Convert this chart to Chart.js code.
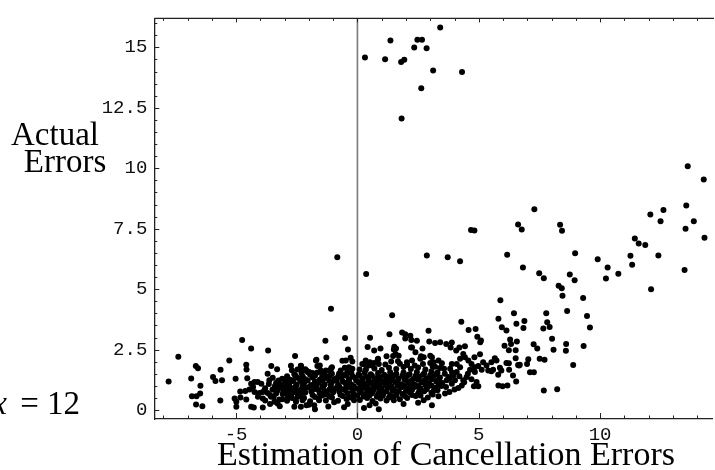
<!DOCTYPE html>
<html><head><meta charset="utf-8">
<script src="https://cdn.jsdelivr.net/npm/chart.js@4"></script>
<style>html,body{margin:0;padding:0;background:#fff;overflow:hidden}canvas{display:block}</style>
</head><body>
<canvas id="c" width="715" height="470"></canvas>
<script>
// ---- tick labels / tick marks ----
const xTicks = [-5, 0, 5, 10];
const yTicks = [0, 2.5, 5, 7.5, 10, 12.5, 15];
const xMinorTicks = [-8,-7,-6,-5,-4,-3,-2,-1,0,1,2,3,4,5,6,7,8,9,10,11,12,13,14];
const yMinorTicks = [0,0.5,1,1.5,2,2.5,3,3.5,4,4.5,5,5.5,6,6.5,7,7.5,8,8.5,9,9.5,10,10.5,11,11.5,12,12.5,13,13.5,14,14.5,15,15.5,16];
const xTitle = "Estimation of Cancellation Errors";
const yTitleLines = ["Actual", "Errors"];
const sideNote = "= 12";

// ---- data ----
const highPts = [[0.31,14.58],[1.14,14.51],[1.36,15.29],[1.80,14.40],[1.93,14.49],[1.82,12.06],[2.34,15.0],[2.47,15.32],[2.66,15.32],[2.63,13.31],[2.85,14.97],[3.12,14.04],[3.41,15.82],[4.31,13.98]];

const rightPts = [[13.61,10.08],[14.27,9.54],[13.55,8.46],[12.61,8.28],[12.07,8.09],[12.49,7.81],[13.86,7.81],[13.52,7.5],[14.30,7.13],[11.43,7.10],[11.59,6.89],[11.86,6.83],[11.25,6.38],[12.40,6.39],[11.32,6.01],[9.90,6.24],[10.31,5.9],[10.24,5.44],[10.75,5.64],[13.48,5.79],[12.10,5.0],
[7.29,8.31],[6.62,7.68],[6.77,7.47],[8.35,7.66],[8.43,7.42],[4.68,7.45],[4.82,7.43],
[3.72,6.32],[4.23,6.16],[6.17,6.42],[8.97,6.49],
[6.82,5.9],[7.49,5.66],[7.68,5.45],[8.75,5.61],[8.95,5.37],
[8.29,5.14],[8.42,5.04],[8.45,4.73],[9.30,4.63],[5.89,4.54],[6.45,4.0],[7.78,4.0],[8.64,4.10],[9.46,3.89],[9.58,3.41],
[4.28,3.65],[5.81,3.78],[5.95,3.43],[6.14,3.29],[6.55,3.57],[6.88,3.68],[6.84,3.39],[7.66,3.37],[7.82,3.63],[7.92,3.44],[4.58,3.31],[4.87,3.35],[4.94,3.03],[5.09,2.88],[5.06,2.80],[8.02,2.95],[8.60,2.73],[8.59,2.45],[9.32,2.65],[8.08,2.49],[7.26,2.72],[7.41,2.55],[6.29,2.92],[6.57,2.84],[6.33,2.73],[6.52,2.47],[6.24,2.47],[6.06,2.66],
[7.51,2.12],[7.71,2.08],[8.89,1.86],[7.04,2.10],[6.99,1.91],[7.11,1.56],[7.27,1.56],[6.41,1.43],[6.54,1.18],[5.81,1.02],[5.98,0.98],[6.18,1.02],[7.68,0.81],[8.23,0.86],[6.24,1.94],[6.62,1.86],[6.69,1.87]];

const midPts = [[3.84,2.59],[3.89,2.79],[4.07,2.46],[4.20,2.59],[4.43,2.64],[4.36,2.32],[4.43,2.18],[4.23,2.12],[4.57,2.05],[4.82,2.18],[5.05,2.31],[4.70,1.91],[4.84,1.77],[4.98,1.82],[5.18,1.98],[5.32,1.84],[5.52,1.98],[5.66,2.14],[5.73,2.05],[5.39,1.64],[5.52,1.60],[5.59,1.67],[5.87,1.75],[5.93,1.64],[5.80,1.46],[6.14,1.95],[6.25,1.67],[6.52,2.14],[6.66,1.84],[5.12,1.67],[4.84,1.57],[4.64,1.67],[4.50,1.37],[4.70,1.27],[4.91,1.16],[4.80,0.98],[4.98,0.98],[4.23,1.77],[4.09,1.57],[3.95,1.43],[3.82,1.71],[3.68,1.23],[3.89,1.09],[4.16,0.91],[3.61,0.68],[3.79,0.75],[3.75,1.37],[4.02,1.23],[4.30,1.02],[4.36,1.23],[4.09,1.91],[3.89,1.91]];

const scatterPts = [[-0.83,6.32],[0.36,5.63],[-1.09,4.19],[1.43,3.92],[2.86,6.39],
[-7.38,2.20],[-7.78,1.18],[-4.75,2.90],[-4.38,2.55],[-3.68,2.46],[-5.28,2.05],[-6.66,1.82],[-6.57,1.73],[-6.85,1.31],[-5.64,1.67],[-5.95,1.37],[-5.85,1.20],[-5.58,1.23],[-6.47,1.01],[-6.82,0.57],[-6.63,0.57],[-6.48,0.68],[-6.65,0.23],[-6.39,0.16],[-5.65,0.40],[-5.02,1.30],[-4.54,1.32],[-4.58,1.87],[-4.57,1.68],[-3.31,1.69],[-3.55,1.82],[-2.57,2.24],[-1.32,2.87],[-0.51,2.98],[-0.39,2.5],[-1.28,2.17],[-1.69,2.08],[-1.09,1.72],[-1.05,1.77],[-1.11,1.61],[-0.62,2.04],[-0.48,2.05],[-0.28,2.16],[-0.21,2.01],[-1.55,1.84],[-2.74,1.83],[-2.70,1.65],[-2.47,1.68],[-2.33,1.82],[-2.15,1.69],[-2.04,1.56],
[0.42,2.61],[0.52,2.99],[0.69,2.46],[0.95,2.55],[0.2,1.91],[0.34,2.05],[0.47,1.84],[0.85,2.12],[0.88,1.91],[1.20,2.23],[1.32,3.14],[1.50,2.5],[1.59,2.55],[1.70,2.25],[1.84,3.21],[1.97,3.14],[2.18,3.07],[2.22,2.90],[2.45,2.87],[2.25,2.59],[2.39,2.39],[2.59,2.12],[2.93,3.28],[2.96,2.84],[3.20,2.77],[3.41,2.80],[3.66,2.73],[3.07,2.18],[3.07,0.20],
[1.97,2.96],[1.52,2.62],[1.57,2.32],[1.47,2.24],[2.21,2.59],[2.68,2.55],[2.62,2.23],[2.73,2.18],[3.0,2.25],[3.14,1.98],[3.34,2.05],[3.20,1.79],[3.57,1.71],[3.48,1.94],[2.04,1.98],[2.25,2.05],[2.36,1.84],[1.67,2.02],[1.39,2.01],[0.84,2.09],[0.68,1.95],[0.51,1.98],[0.27,1.89],[0.09,1.68],[0.61,1.84],
[-0.69,1.64],[-0.52,1.75],[-0.35,1.77],[-0.21,1.71],[-0.76,1.50],[-0.42,1.56],[-1.51,1.64],[-1.65,1.82],[-1.71,2.05],[-1.85,1.53],[-2.10,1.64],[-2.29,1.64],[-2.33,1.83],[-1.99,1.57],[-1.30,1.64],[-1.44,1.50]];

const lowPts = [[-5.06,0.48],[-4.99,0.34],[-4.82,0.52],[-4.83,0.77],[-4.99,0.14],[-4.58,0.44],[-4.62,0.79],[-4.38,0.14],[-4.27,0.11],[-3.90,0.11],[-4.38,1.09],[-4.24,1.16],[-4.45,0.85],[-4.24,0.75],[-4.04,0.71],[-3.90,0.48],[-3.83,0.82],[-3.70,0.71],[-3.63,1.23],[-3.49,1.34],[-3.29,1.16],[-3.15,1.07],[-3.35,0.89],[-3.56,0.55],[-3.42,0.34],[-3.29,0.27],[-3.22,0.44],[-3.08,0.66],[-2.94,0.71],[-2.88,0.52],[-2.74,0.61],[-2.60,0.75],[-2.53,0.34],[-2.47,0.55],[-2.33,0.71],[-2.26,0.95],[-2.81,1.02],[-2.67,1.23],[-2.94,1.30],[-3.08,0.89],[-3.96,1.09],[-4.11,1.16],[-2.60,0.14],[-2.33,0.14],[-2.26,0.48],[-3.90,0.75],[-3.70,1.50],
[-2.10,0.20],[-1.78,0.20],[-1.75,0.03],[-0.96,0.32],[-0.55,0.12],[-0.14,0.41],[0.27,0.09],[0.75,0.27],[0.88,0.03],[1.50,0.41],[2.73,0.41],[3.34,0.57],[-2.26,0.41],[-1.58,0.41],
[-3.2,0.16],[-2.0,0.22],[-1.2,0.15],[0.5,0.2],[1.9,0.25],[-0.4,0.25],[2.5,0.3],[-3.8,0.4],[-3.6,0.25],[-4.1,0.55],[-4.3,0.95],
[3.65,0.95],[3.8,1.3],[4.0,0.85],[4.2,1.4],[4.4,1.15],[3.9,1.55],[3.6,1.5],[4.55,1.5]];

const corePts = [
[-3.1,0.45],[-2.9,0.38],[-2.55,0.42],[-2.2,0.5],[-1.95,0.36],[-1.6,0.47],[-1.3,0.4],[-1.05,0.52],[-0.8,0.38],[-0.45,0.46],[-0.2,0.55],[0.1,0.42],[0.4,0.5],[0.62,0.37],[0.95,0.48],[1.2,0.4],[1.45,0.55],[1.75,0.45],[2.05,0.5],[2.4,0.58],[2.9,0.52],
[-3.6,0.62],[-3.35,0.68],[-3.0,0.72],[-2.75,0.6],[-2.45,0.66],[-2.15,0.73],[-1.85,0.62],[-1.55,0.7],[-1.25,0.64],[-1.0,0.74],[-0.7,0.63],[-0.4,0.7],[-0.15,0.66],[0.15,0.74],[0.35,0.63],[0.6,0.7],[0.85,0.66],[1.1,0.74],[1.35,0.62],[1.6,0.7],[1.85,0.66],[2.15,0.74],[2.5,0.68],[2.75,0.78],[3.05,0.72],[3.3,0.82],
[-3.8,0.9],[-3.5,0.85],[-3.2,0.94],[-2.95,0.86],[-2.65,0.9],[-2.35,0.84],[-2.05,0.93],[-1.75,0.87],[-1.45,0.95],[-1.15,0.85],[-0.9,0.9],[-0.6,0.86],[-0.3,0.94],[0.0,0.88],[0.25,0.92],[0.5,0.85],[0.75,0.95],[1.0,0.88],[1.25,0.93],[1.5,0.86],[1.8,0.94],[2.05,0.89],[2.35,0.95],[2.6,0.9],[2.9,0.96],[3.2,0.92],[3.45,1.0],
[-3.65,1.08],[-3.35,1.12],[-3.05,1.05],[-2.8,1.14],[-2.5,1.06],[-2.2,1.12],[-1.9,1.04],[-1.6,1.13],[-1.35,1.07],[-1.05,1.15],[-0.8,1.05],[-0.5,1.12],[-0.25,1.06],[0.05,1.15],[0.3,1.08],[0.55,1.13],[0.8,1.05],[1.05,1.14],[1.3,1.08],[1.55,1.16],[1.8,1.07],[2.1,1.13],[2.35,1.06],[2.65,1.15],[2.95,1.1],[3.25,1.18],[3.5,1.12],
[-3.1,1.3],[-2.8,1.26],[-2.45,1.33],[-2.15,1.27],[-1.85,1.35],[-1.55,1.25],[-1.25,1.32],[-0.95,1.28],[-0.65,1.36],[-0.35,1.26],[-0.1,1.33],[0.2,1.28],[0.45,1.35],[0.7,1.27],[0.95,1.34],[1.2,1.29],[1.45,1.37],[1.7,1.3],[2.0,1.35],[2.3,1.28],[2.55,1.38],[2.85,1.32],[3.15,1.4],[3.4,1.35],
[-2.6,1.48],[-2.3,1.52],[-1.95,1.46],[-1.65,1.55],[-1.35,1.47],[-1.05,1.5],[-0.55,1.45],[-0.25,1.53],[0.05,1.47],[0.3,1.55],[0.55,1.48],[0.85,1.53],[1.1,1.46],[1.35,1.56],[1.6,1.5],[1.9,1.55],[2.15,1.48],[2.45,1.57],[2.75,1.52],[3.05,1.6],[3.3,1.55],
[0.35,1.68],[0.7,1.72],[1.0,1.66],[1.3,1.75],[1.6,1.7],[1.9,1.78],[2.2,1.7],[2.5,1.76],[2.8,1.68],[3.1,1.8],[3.4,1.74],
[1.15,1.88],[1.75,1.92],[2.05,1.86],[2.7,1.9],[3.0,1.95]];

const coreFillPts = [
[-3.45,0.55],[-2.7,0.5],[-2.35,0.58],[-1.75,0.54],[-1.45,0.6],[-1.15,0.56],[-0.6,0.58],[-0.3,0.52],[0.0,0.6],[0.25,0.56],[0.5,0.6],[0.8,0.55],[1.05,0.6],[1.3,0.52],[1.6,0.6],[1.95,0.58],[2.25,0.62],[2.6,0.6],[3.1,0.64],
[-3.3,0.8],[-3.05,0.78],[-2.8,0.82],[-2.5,0.78],[-2.2,0.8],[-1.9,0.77],[-1.6,0.82],[-1.35,0.79],[-1.05,0.8],[-0.75,0.77],[-0.5,0.82],[-0.2,0.79],[0.1,0.81],[0.4,0.77],[0.65,0.82],[0.9,0.8],[1.2,0.78],[1.45,0.82],[1.7,0.79],[2.0,0.8],[2.25,0.84],[2.55,0.8],[2.85,0.86],[3.15,0.82],
[-3.4,1.0],[-3.1,0.98],[-2.85,1.0],[-2.55,0.97],[-2.25,1.01],[-1.95,0.98],[-1.7,1.0],[-1.4,0.98],[-1.1,1.02],[-0.75,0.97],[-0.45,1.0],[-0.15,0.98],[0.15,1.02],[0.4,0.98],[0.65,1.02],[0.9,0.99],[1.15,1.03],[1.4,0.98],[1.65,1.02],[1.95,1.0],[2.2,1.04],[2.5,0.99],[2.8,1.04],[3.05,1.02],[3.35,1.06],
[-3.25,1.22],[-2.95,1.18],[-2.65,1.2],[-2.35,1.2],[-2.05,1.22],[-1.75,1.18],[-1.45,1.21],[-1.15,1.2],[-0.85,1.22],[-0.6,1.18],[-0.35,1.2],[-0.05,1.22],[0.2,1.18],[0.45,1.21],[0.7,1.2],[0.9,1.23],[1.15,1.2],[1.4,1.24],[1.65,1.2],[1.95,1.24],[2.2,1.2],[2.5,1.25],[2.75,1.22],[3.05,1.27],[3.35,1.24],
[-2.9,1.4],[-2.55,1.42],[-2.25,1.38],[-1.75,1.42],[-1.45,1.4],[-1.15,1.41],[-0.8,1.38],[-0.45,1.42],[-0.2,1.4],[0.1,1.42],[0.35,1.38],[0.6,1.42],[0.85,1.4],[1.1,1.43],[1.3,1.4],[1.55,1.44],[1.85,1.42],[2.1,1.45],[2.4,1.42],[2.7,1.46],[3.0,1.44],[3.25,1.48]];

const allPts = [].concat(highPts, rightPts, midPts, scatterPts, lowPts, corePts, coreFillPts).map(p => ({x: p[0], y: p[1]}));

const serif = '"Liberation Serif", "DejaVu Serif", serif';
const mono = "'Liberation Mono', 'DejaVu Sans Mono', monospace";

const framePlugin = {
  id: 'frame',
  beforeDatasetsDraw(chart) {
    const {ctx, chartArea: a, scales: {x}} = chart;
    const px = x.getPixelForValue(0);
    ctx.save();
    ctx.strokeStyle = '#7a7a7a';
    ctx.lineWidth = 1.6;
    ctx.beginPath(); ctx.moveTo(px, a.top); ctx.lineTo(px, a.bottom); ctx.stroke();
    ctx.restore();
  },
  afterDraw(chart) {
    const {ctx, chartArea: a, scales: {x, y}} = chart;
    ctx.save();
    ctx.strokeStyle = '#222';
    ctx.lineWidth = 1.3;
    ctx.beginPath(); ctx.moveTo(a.left, a.top); ctx.lineTo(a.right + 2, a.top); ctx.stroke();
    ctx.lineWidth = 1;
    xMinorTicks.forEach(v => {
      const p = Math.round(x.getPixelForValue(v)) + 0.5;
      const major = xTicks.includes(v);
      const lb = major ? 6 : 3.5, lt = major ? 4 : 2.5;
      ctx.beginPath(); ctx.moveTo(p, a.bottom); ctx.lineTo(p, a.bottom - lb); ctx.stroke();
      ctx.beginPath(); ctx.moveTo(p, a.top); ctx.lineTo(p, a.top + lt); ctx.stroke();
    });
    yMinorTicks.forEach(v => {
      const p = Math.round(y.getPixelForValue(v)) + 0.5;
      const major = yTicks.includes(v);
      const l = major ? 5 : 3;
      ctx.beginPath(); ctx.moveTo(a.left, p); ctx.lineTo(a.left + l, p); ctx.stroke();
    });
    ctx.fillStyle = '#000';
    ctx.textBaseline = 'alphabetic';
    ctx.textAlign = 'center';
    ctx.font = '33px ' + serif;
    ctx.fillText(yTitleLines[0], 55, 145);
    ctx.fillText(yTitleLines[1], 65, 172);
    ctx.font = '34px ' + serif;
    ctx.fillText(xTitle, 446, 465);
    ctx.textAlign = 'right';
    ctx.font = '33px ' + serif;
    ctx.fillText(sideNote, 80, 414);
    ctx.font = 'italic 33px ' + serif;
    ctx.fillText('x', 7, 414);
    ctx.restore();
  }
};

new Chart(document.getElementById('c'), {
  type: 'scatter',
  data: { datasets: [{ data: allPts, backgroundColor: '#000', borderColor: '#000', borderWidth: 0, pointRadius: 3, pointHoverRadius: 3 }] },
  options: {
    responsive: false, animation: false, devicePixelRatio: 1, events: [],
    layout: { padding: { top: 14.7, right: 0, left: 0, bottom: 0 } },
    plugins: { legend: { display: false }, tooltip: { enabled: false } },
    scales: {
      x: {
        type: 'linear', min: -8.37, max: 14.61,
        afterBuildTicks: s => { s.ticks = xTicks.map(v => ({ value: v })); },
        afterFit: s => { s.height = 51; },
        grid: { display: false, drawTicks: false },
        border: { display: true, color: '#222', width: 1.3 },
        ticks: { font: { family: mono, size: 19 }, color: '#111', padding: 5, maxRotation: 0, autoSkip: false, callback: v => String(v) }
      },
      y: {
        type: 'linear', min: -0.37, max: 16.2,
        afterBuildTicks: s => { s.ticks = yTicks.map(v => ({ value: v })); },
        afterFit: s => { s.width = 154.3; },
        grid: { display: false, drawTicks: false },
        border: { display: true, color: '#222', width: 1.3 },
        ticks: { font: { family: mono, size: 19 }, color: '#111', padding: 7, autoSkip: false, callback: v => String(v) }
      }
    }
  },
  plugins: [framePlugin]
});
</script>
</body></html>
